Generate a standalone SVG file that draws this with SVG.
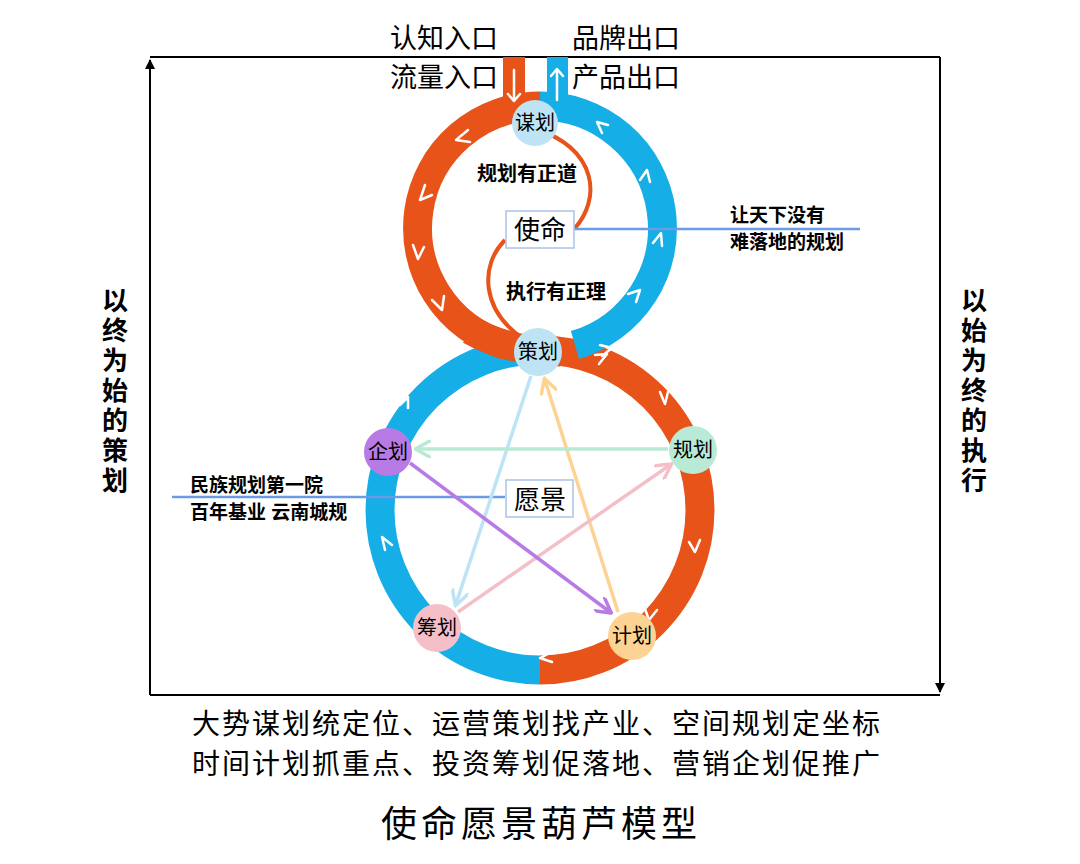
<svg xmlns="http://www.w3.org/2000/svg" width="1080" height="864" viewBox="0 0 1080 864">
<defs>
<style>
.t{font-family:"Liberation Sans","Noto Sans CJK SC",sans-serif;fill:#000}
.b{font-weight:bold}
.ro{fill:none;stroke:#E8531A;stroke-width:29}
.rb{fill:none;stroke:#16AEE6;stroke-width:29}
.ch{fill:none;stroke:#fff;stroke-width:2.5;stroke-linecap:round;stroke-linejoin:round}
.ax{stroke:#000;stroke-width:2;fill:none}
.st{fill:none;stroke-width:3.5}
</style>
<marker id="ma" viewBox="0 0 10 10" refX="9" refY="5" markerWidth="5" markerHeight="5" orient="auto-start-reverse"><path d="M0,0L10,5L0,10z" fill="#000"/></marker>
<marker id="m1" viewBox="0 0 10 10" refX="8" refY="5" markerWidth="5" markerHeight="5" orient="auto"><path d="M0,0L9,5L0,10" fill="none" stroke="#BDE3F5" stroke-width="2"/></marker>
<marker id="m2" viewBox="0 0 10 10" refX="8" refY="5" markerWidth="5" markerHeight="5" orient="auto"><path d="M0,0L9,5L0,10" fill="none" stroke="#FDD394" stroke-width="2"/></marker>
<marker id="m3" viewBox="0 0 10 10" refX="8" refY="5" markerWidth="5" markerHeight="5" orient="auto"><path d="M0,0L9,5L0,10" fill="none" stroke="#F5BFC9" stroke-width="2"/></marker>
<marker id="m4" viewBox="0 0 10 10" refX="8" refY="5" markerWidth="5" markerHeight="5" orient="auto"><path d="M0,0L9,5L0,10" fill="none" stroke="#B9EAD5" stroke-width="2"/></marker>
<marker id="m5" viewBox="0 0 10 10" refX="8" refY="5" markerWidth="5" markerHeight="5" orient="auto"><path d="M0,0L9,5L0,10" fill="none" stroke="#B87BE5" stroke-width="2"/></marker>
</defs>
<rect width="1080" height="864" fill="#fff"/>
<g id="frame">
<path class="ax" d="M150,695V60" marker-end="url(#ma)"/>
<path class="ax" d="M150,695H940"/>
<path class="ax" d="M150,57H940"/>
<path class="ax" d="M940,57V692" marker-end="url(#ma)"/>
</g>
<g id="rings">
<rect x="503" y="57" width="22" height="50" fill="#E8531A"/>
<rect x="547" y="57" width="21" height="50" fill="#16AEE6"/>
<path class="rb" d="M540,670 A160,160 0 0 1 540,350"/>
<path class="ro" d="M540,350 A160,160 0 0 1 540,670"/>
<path class="rb" d="M540,106 A122,122 0 0 1 575,345"/>
<path class="ro" d="M540,106 A122,122 0 0 0 505,345"/>
<path class="ro" d="M470,330 Q510,352 560,352"/>
<path d="M534,128 C600,150 600,200 575,228" fill="none" stroke="#E8531A" stroke-width="4"/>
<path d="M505,240 C480,265 480,310 525,340" fill="none" stroke="#E8531A" stroke-width="4"/>
<g class="ch">
<path d="M514,70V100M508,94l6,7l6,-7"/>
<path d="M557,100V70M551,76l6,-7l6,7"/>
<path d="M468,130l-12,10l14,2"/>
<path d="M425,185l-5,15l12,-5"/>
<path d="M413,245l5,14l6,-12"/>
<path d="M432,300l10,10l2,-14"/>
<path d="M608,125l-11,-3l5,11"/>
<path d="M650,182l-3,-12l-7,10"/>
<path d="M662,246l-1,-13l-8,10"/>
<path d="M636,302l4,-12l-12,4"/>
<path d="M595,355l12,-1l-8,10"/>
<path d="M600,345l12,3l-10,8"/>
<path d="M660,392l5,12l3,-12"/>
<path d="M700,540l-5,12l-6,-10"/>
<path d="M657,610l-8,10l-4,-11"/>
<path d="M552,652l-12,6l12,4"/>
<path d="M385,550l-3,-13l10,8"/>
<path d="M400,405l8,-8l0,11"/>
</g>
</g>
<g id="connectors">
<path d="M574,229H860" stroke="#6C9BE6" stroke-width="2.5"/>
<path d="M172,497H505" stroke="#6C9BE6" stroke-width="2.5"/>
<path class="st" stroke="#BDE3F5" d="M531,376L456,604" marker-end="url(#m1)"/>
<path class="st" stroke="#FDD394" d="M618,612L545,380" marker-end="url(#m2)"/>
<path class="st" stroke="#F5BFC9" d="M458,612L670,465" marker-end="url(#m3)"/>
<path class="st" stroke="#B9EAD5" d="M668,449L417,449" marker-end="url(#m4)"/>
<path class="st" stroke="#B87BE5" d="M410,463L610,612" marker-end="url(#m5)"/>
</g>
<g id="n-mouhua"><circle cx="535" cy="123" r="23" fill="#BDE3F5"/><text class="t" x="535" y="130" font-size="20" text-anchor="middle">谋划</text></g>
<g id="n-cehua"><circle cx="538" cy="352" r="24" fill="#BDE3F5"/><text class="t" x="538" y="359" font-size="20" text-anchor="middle">策划</text></g>
<g id="n-qihua"><circle cx="388" cy="452" r="24" fill="#B87BE5"/><text class="t" x="388" y="459" font-size="20" text-anchor="middle">企划</text></g>
<g id="n-guihua"><circle cx="693" cy="450" r="24" fill="#B9EAD5"/><text class="t" x="693" y="457" font-size="20" text-anchor="middle">规划</text></g>
<g id="n-chouhua"><circle cx="437" cy="628" r="24" fill="#F5BFC9"/><text class="t" x="437" y="635" font-size="20" text-anchor="middle">筹划</text></g>
<g id="n-jihua"><circle cx="632" cy="636" r="24" fill="#FDD394"/><text class="t" x="632" y="643" font-size="20" text-anchor="middle">计划</text></g>
<g id="n-shiming"><rect x="506" y="211" width="68" height="37" fill="#fff" stroke="#A9C4EA" stroke-width="1.5"/><text class="t" x="540" y="239" font-size="26" text-anchor="middle">使命</text></g>
<g id="n-yuanjing"><rect x="506" y="480" width="67" height="37" fill="#fff" stroke="#A9C4EA" stroke-width="1.5"/><text class="t" x="540" y="509" font-size="26" text-anchor="middle">愿景</text></g>
<g id="labels">
<text class="t" x="444" y="48" font-size="27" text-anchor="middle">认知入口</text>
<text class="t" x="444" y="87" font-size="27" text-anchor="middle">流量入口</text>
<text class="t" x="626" y="48" font-size="27" text-anchor="middle">品牌出口</text>
<text class="t" x="626" y="87" font-size="27" text-anchor="middle">产品出口</text>
<text class="t b" x="527" y="181" font-size="20" text-anchor="middle">规划有正道</text>
<text class="t b" x="556" y="299" font-size="20" text-anchor="middle">执行有正理</text>
<text class="t b" x="730" y="222" font-size="19">让天下没有</text>
<text class="t b" x="730" y="249" font-size="19">难落地的规划</text>
<text class="t b" x="190" y="492" font-size="19">民族规划第一院</text>
<text class="t b" x="190" y="519" font-size="19">百年基业 云南城规</text>
<text class="t b" x="115" y="310" font-size="26" text-anchor="middle"><tspan x="115" dy="0">以</tspan><tspan x="115" dy="30">终</tspan><tspan x="115" dy="30">为</tspan><tspan x="115" dy="30">始</tspan><tspan x="115" dy="30">的</tspan><tspan x="115" dy="30">策</tspan><tspan x="115" dy="30">划</tspan></text>
<text class="t b" x="974" y="310" font-size="26" text-anchor="middle"><tspan x="974" dy="0">以</tspan><tspan x="974" dy="30">始</tspan><tspan x="974" dy="30">为</tspan><tspan x="974" dy="30">终</tspan><tspan x="974" dy="30">的</tspan><tspan x="974" dy="30">执</tspan><tspan x="974" dy="30">行</tspan></text>
<text class="t" x="537" y="734" font-size="28" text-anchor="middle" letter-spacing="2">大势谋划统定位、运营策划找产业、空间规划定坐标</text>
<text class="t" x="537" y="774" font-size="28" text-anchor="middle" letter-spacing="2">时间计划抓重点、投资筹划促落地、营销企划促推广</text>
<text class="t" x="541" y="837" font-size="36" text-anchor="middle" letter-spacing="4">使命愿景葫芦模型</text>
</g>
</svg>
